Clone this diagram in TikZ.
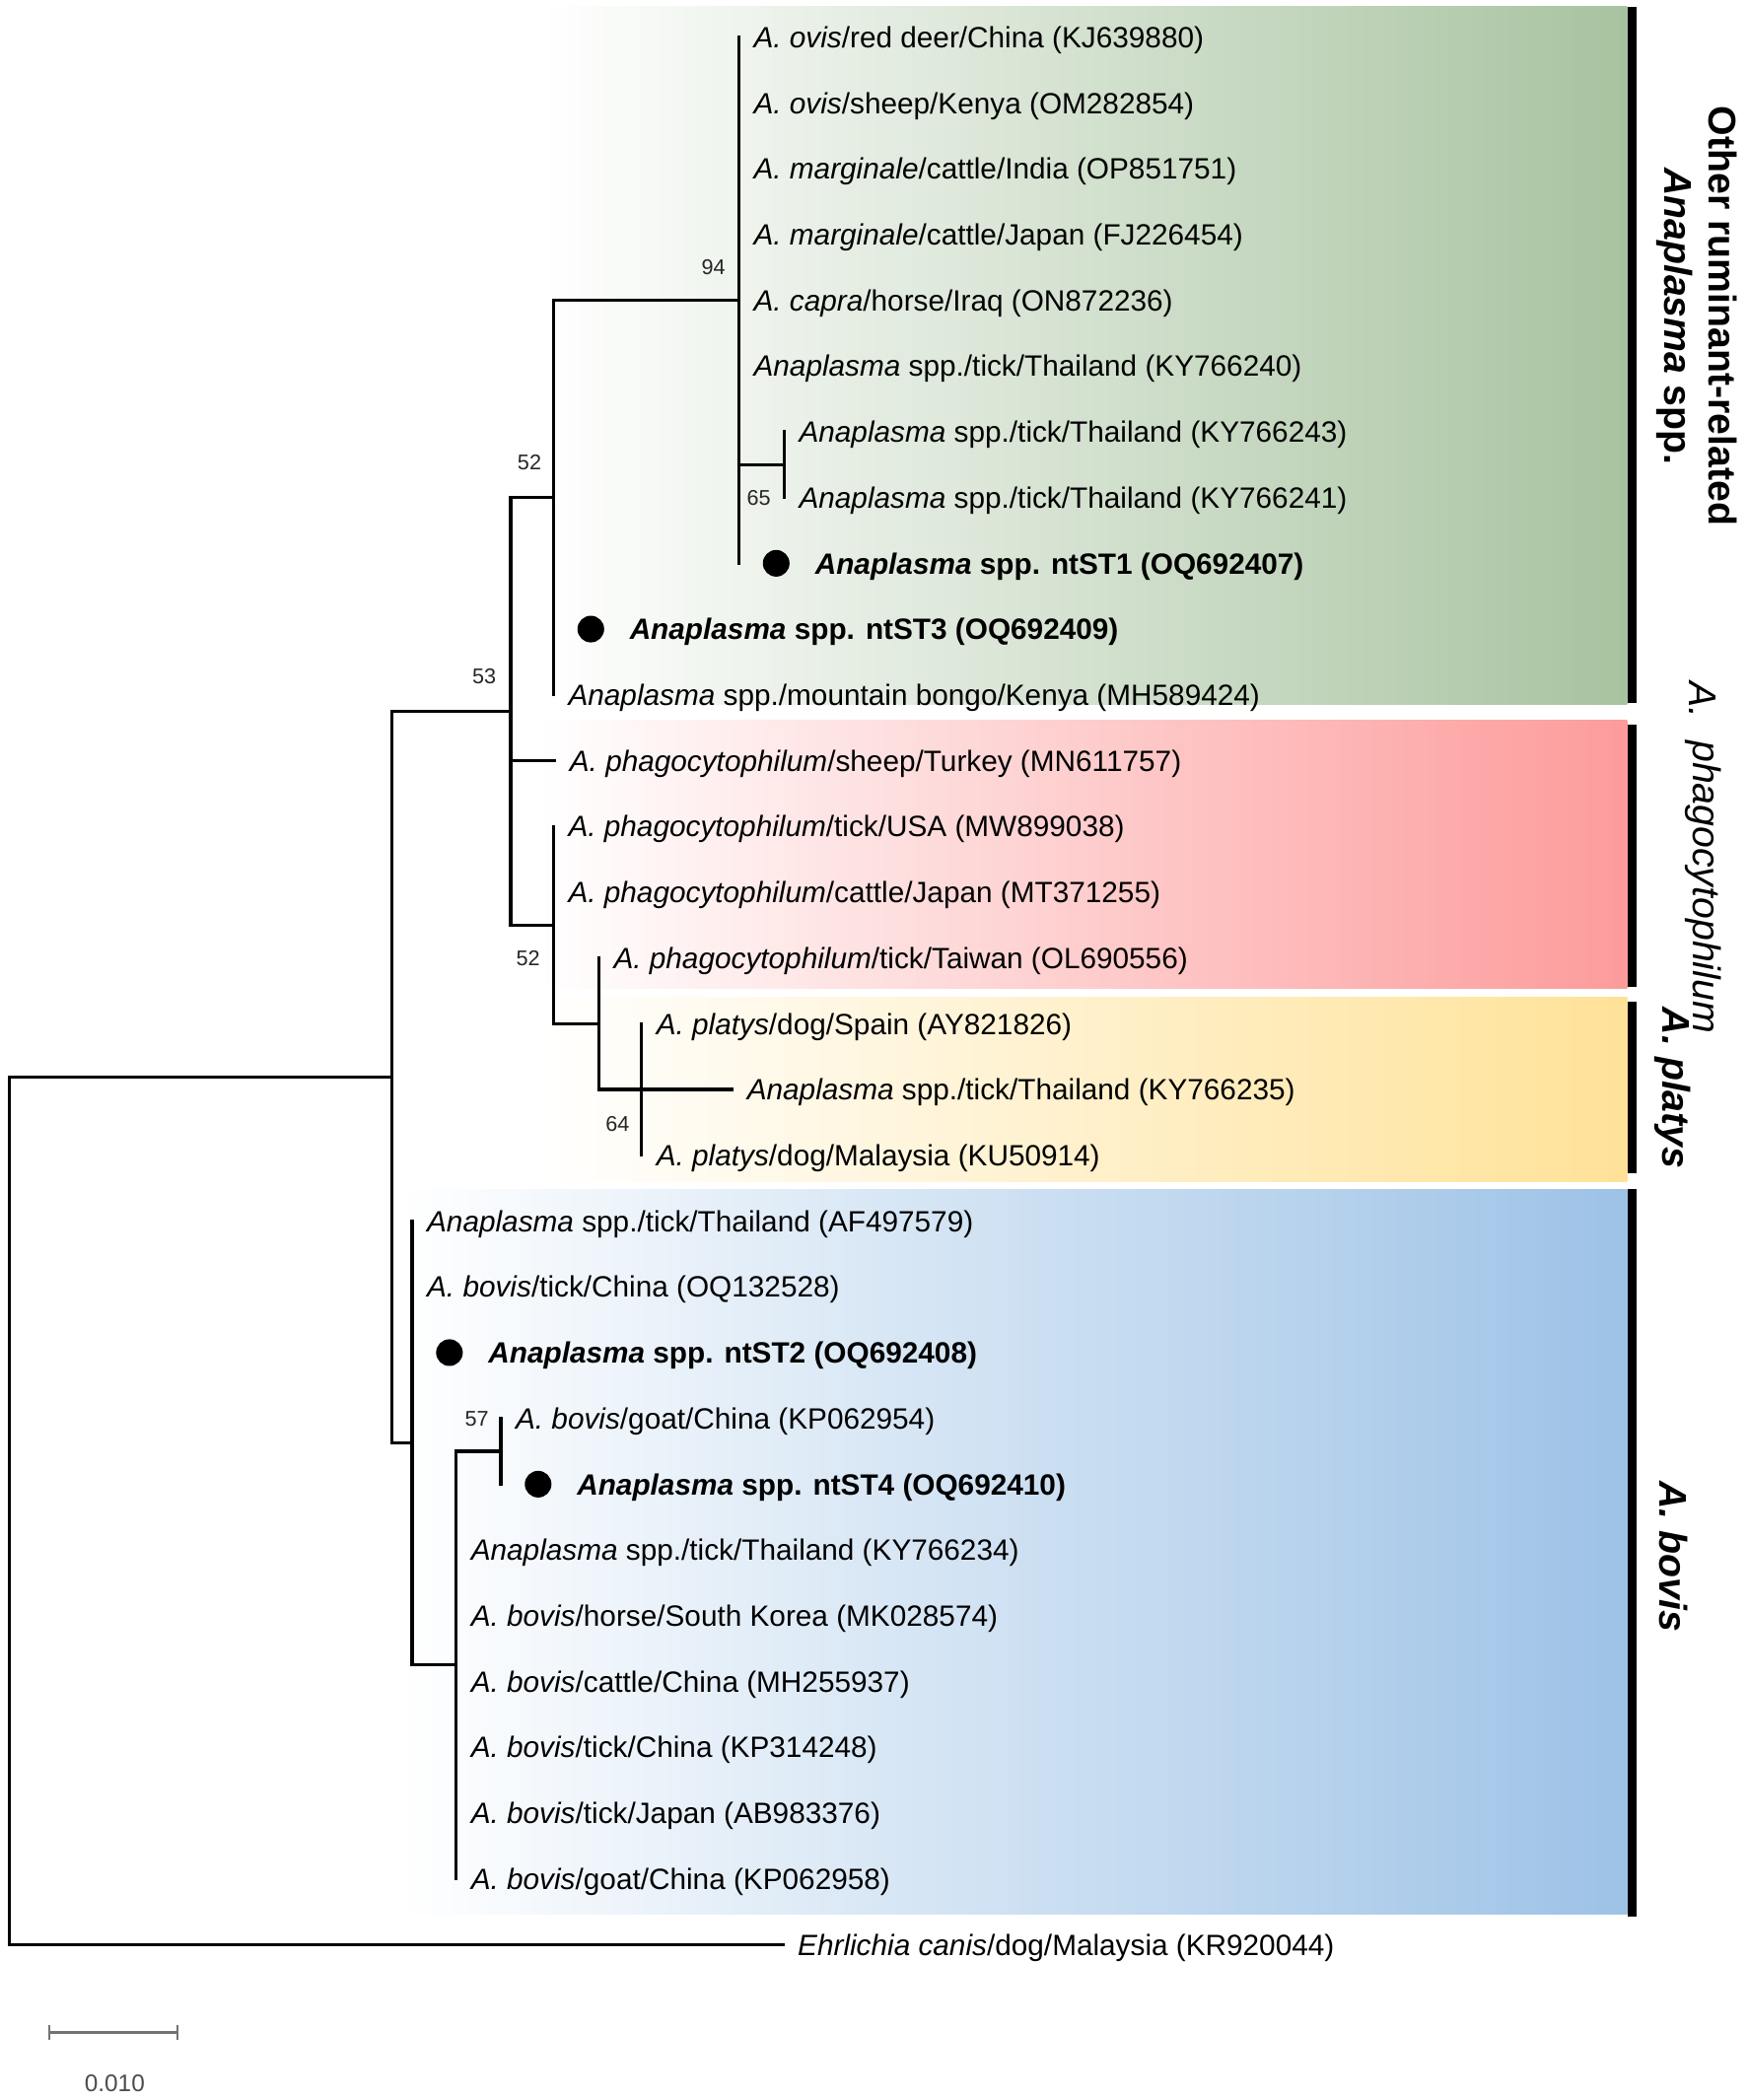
\documentclass[tikz,border=0pt]{standalone}
\usepackage{fontspec}
\setmainfont{Liberation Sans}
\usetikzlibrary{arrows.meta}

\definecolor{cladegreen}{RGB}{168,195,160}
\definecolor{cladered}{RGB}{253,155,155}
\definecolor{cladeyellow}{RGB}{255,226,152}
\definecolor{cladeblue}{RGB}{157,194,230}

\begin{document}
\begin{tikzpicture}[x=1pt, y=-49.32pt]
    \tikzstyle{branch}=[line width=2.4pt, line cap=rect]
    \tikzstyle{leaf}=[anchor=west, inner xsep=11pt, inner ysep=0pt, text height=15.8pt, text depth=0pt, font=\fontsize{22}{26}\selectfont]
    \tikzstyle{stleaf}=[leaf, inner xsep=57pt, font=\fontsize{22}{26}\selectfont\bfseries]
    \tikzstyle{stdot}=[circle, fill=black, inner sep=0pt, minimum size=20pt]
    \tikzstyle{boot}=[inner sep=0pt, font=\fontsize{16}{18}\selectfont, text=black!85]
    \tikzstyle{cladebar}=[line width=7pt]
    \tikzstyle{cladelab}=[rotate=-90, inner sep=0pt, font=\fontsize{29}{34}\selectfont\bfseries]
    \tikzstyle{scalebar}=[line width=1.6pt, draw=black!55, {Bar[width=11pt]}-{Bar[width=11pt]}]

    \useasboundingbox (0,0.4363) rectangle (1310,32.3627);

    % clade bands
    \shade[left color=white, right color=cladegreen] (405,0.54) rectangle (1220,11.15);
    \shade[left color=white, right color=cladered] (405,11.39) rectangle (1220,15.46);
    \shade[left color=white, right color=cladeyellow] (405,15.60) rectangle (1220,18.40);
    \shade[left color=white, right color=cladeblue] (300,18.52) rectangle (1220,29.53);

    \draw[cladebar] (1224,0.54) -- (1224,11.13);
    \draw[cladebar] (1224,11.45) -- (1224,15.44);
    \draw[cladebar] (1224,15.66) -- (1224,18.28);
    \draw[cladebar] (1224,18.52) -- (1224,29.57);

    % internal nodes
    \coordinate (nR) at (7,23.41);
    \coordinate (nA) at (294,16.81);
    \coordinate (nB) at (383,11.25);
    \coordinate (nC) at (415,8);
    \coordinate (nD) at (554,5);
    \coordinate (nS) at (588,7.5);
    \coordinate (nE) at (415,14.5);
    \coordinate (nF) at (449,16);
    \coordinate (nG) at (481,17);
    \coordinate (nH) at (309,22.375);
    \coordinate (nI) at (342,25.75);
    \coordinate (nJ) at (375.5,22.5);

    % leaves
    \node[leaf] (l1) at (554,1) {\textit{A. ovis}/red deer/China (KJ639880)};
    \node[leaf] (l2) at (554,2) {\textit{A. ovis}/sheep/Kenya (OM282854)};
    \node[leaf] (l3) at (554,3) {\textit{A. marginale}/cattle/India (OP851751)};
    \node[leaf] (l4) at (554,4) {\textit{A. marginale}/cattle/Japan (FJ226454)};
    \node[leaf] (l5) at (554,5) {\textit{A. capra}/horse/Iraq (ON872236)};
    \node[leaf] (l6) at (554,6) {\textit{Anaplasma} spp./tick/Thailand (KY766240)};
    \node[leaf] (l7) at (588,7) {\textit{Anaplasma} spp./tick/Thailand (KY766243)};
    \node[leaf] (l8) at (588,8) {\textit{Anaplasma} spp./tick/Thailand (KY766241)};
    \node[stleaf] (l9) at (554,9) {\textit{Anaplasma} spp. ntST1 (OQ692407)};
    \node[stleaf] (l10) at (415,10) {\textit{Anaplasma} spp. ntST3 (OQ692409)};
    \node[leaf] (l11) at (415,11) {\textit{Anaplasma} spp./mountain bongo/Kenya (MH589424)};
    \node[leaf] (l12) at (416,12) {\textit{A. phagocytophilum}/sheep/Turkey (MN611757)};
    \node[leaf] (l13) at (415,13) {\textit{A. phagocytophilum}/tick/USA (MW899038)};
    \node[leaf] (l14) at (415,14) {\textit{A. phagocytophilum}/cattle/Japan (MT371255)};
    \node[leaf] (l15) at (449,15) {\textit{A. phagocytophilum}/tick/Taiwan (OL690556)};
    \node[leaf] (l16) at (481,16) {\textit{A. platys}/dog/Spain (AY821826)};
    \node[leaf] (l17) at (549,17) {\textit{Anaplasma} spp./tick/Thailand (KY766235)};
    \node[leaf] (l18) at (481,18) {\textit{A. platys}/dog/Malaysia (KU50914)};
    \node[leaf] (l19) at (309,19) {\textit{Anaplasma} spp./tick/Thailand (AF497579)};
    \node[leaf] (l20) at (309,20) {\textit{A. bovis}/tick/China (OQ132528)};
    \node[stleaf] (l21) at (309,21) {\textit{Anaplasma} spp. ntST2 (OQ692408)};
    \node[leaf] (l22) at (375.5,22) {\textit{A. bovis}/goat/China (KP062954)};
    \node[stleaf] (l23) at (375.5,23) {\textit{Anaplasma} spp. ntST4 (OQ692410)};
    \node[leaf] (l24) at (342,24) {\textit{Anaplasma} spp./tick/Thailand (KY766234)};
    \node[leaf] (l25) at (342,25) {\textit{A. bovis}/horse/South Korea (MK028574)};
    \node[leaf] (l26) at (342,26) {\textit{A. bovis}/cattle/China (MH255937)};
    \node[leaf] (l27) at (342,27) {\textit{A. bovis}/tick/China (KP314248)};
    \node[leaf] (l28) at (342,28) {\textit{A. bovis}/tick/Japan (AB983376)};
    \node[leaf] (l29) at (342,29) {\textit{A. bovis}/goat/China (KP062958)};
    \node[leaf] (l30) at (587,30) {\textit{Ehrlichia canis}/dog/Malaysia (KR920044)};

    \foreach \st in {l9, l10, l21, l23} {
        \node[stdot] (dot\st) at ([xshift=28pt]\st.west) {};
    }

    % branches
    \draw[branch] (nR) |- (nA);
    \draw[branch] (nR) |- (l30);
    \draw[branch] (nA) |- (nB);
    \draw[branch] (nA) |- (nH);
    \draw[branch] (nB) |- (nC);
    \draw[branch] (nB) |- (l12);
    \draw[branch] (nB) |- (nE);
    \draw[branch] (nC) |- (nD);
    \draw[branch] (nC) |- (l10);
    \draw[branch] (nC) |- (l11);
    \foreach \lf in {l1, l2, l3, l4, l5, l6, l9} {
        \draw[branch] (nD) |- (\lf);
    }
    \draw[branch] (nD) |- (nS);
    \draw[branch] (nS) |- (l7);
    \draw[branch] (nS) |- (l8);
    \draw[branch] (nE) |- (l13);
    \draw[branch] (nE) |- (l14);
    \draw[branch] (nE) |- (nF);
    \draw[branch] (nF) |- (l15);
    \draw[branch] (nF) |- (nG);
    \draw[branch] (nG) |- (l16);
    \draw[branch] (nG) |- (l17);
    \draw[branch] (nG) |- (l18);
    \foreach \lf in {l19, l20, l21} {
        \draw[branch] (nH) |- (\lf);
    }
    \draw[branch] (nH) |- (nI);
    \draw[branch] (nI) |- (nJ);
    \foreach \lf in {l24, l25, l26, l27, l28, l29} {
        \draw[branch] (nI) |- (\lf);
    }
    \draw[branch] (nJ) |- (l22);
    \draw[branch] (nJ) |- (l23);

    % bootstrap values
    \node[boot] (b94) at ([xshift=-19pt, yshift=25pt]nD) {94};
    \node[boot] (b65) at ([xshift=-19pt, yshift=-25pt]nS) {65};
    \node[boot] (b52a) at ([xshift=-18pt, yshift=26pt]nC) {52};
    \node[boot] (b53) at ([xshift=-20pt, yshift=26pt]nB) {53};
    \node[boot] (b52b) at ([xshift=-19pt, yshift=-25pt]nE) {52};
    \node[boot] (b64) at ([xshift=-18pt, yshift=-26pt]nG) {64};
    \node[boot] (b57) at ([xshift=-18pt, yshift=24pt]nJ) {57};

    % clade names
    \node[cladelab] (labor1) at (1292,5.24) {Other ruminant-related};
    \node[cladelab] (labor2) at (1256,5.24) {\textit{Anaplasma} spp.};
    \node[cladelab, font=\fontsize{29}{34}\selectfont\itshape] (labph1) at (1277,11.08) {A.};
    \node[cladelab, font=\fontsize{29}{34}\selectfont\itshape] (labph2) at (1277,13.92) {phagocytophilum};
    \node[cladelab] (labpl) at (1254,16.98) {\textit{A. platys}};
    \node[cladelab] (labbo) at (1255,24.1) {\textit{A. bovis}};

    % scale bar
    \coordinate (sbL) at (36,31.336);
    \coordinate (sbR) at (134,31.336);
    \draw[scalebar] (sbL) -- (sbR);
    \node[font=\fontsize{18}{20}\selectfont, text=black!70] (sbtext) at (86,32.107) {0.010};

\end{tikzpicture}
\end{document}
